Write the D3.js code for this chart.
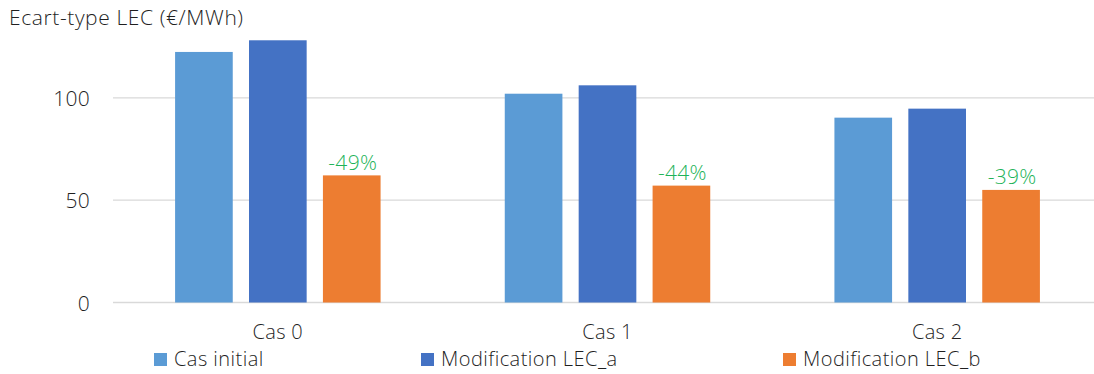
<!DOCTYPE html>
<html><head><meta charset="utf-8">
<script src="https://cdn.jsdelivr.net/npm/d3@7"></script>
<style>
html,body{margin:0;padding:0;background:#fff;}
svg text{font-family:"Open Sans",sans-serif;font-weight:300;fill:#1f1f1f;letter-spacing:0.3px;}
</style></head>
<body><svg id="c" width="1094" height="374"></svg>
<script>
const categories = ["Cas 0", "Cas 1", "Cas 2"];
const seriesNames = ["Cas initial", "Modification LEC_a", "Modification LEC_b"];
const casInitial = [122.4, 102.0, 90.3];
const lecA = [128.1, 106.1, 94.7];
const lecB = [62.1, 57.1, 55.0];
const changeLabels = ["-49%", "-44%", "-39%"];
const yTicks = [0, 50, 100];
const colors = ["#5B9BD5", "#4472C4", "#ED7D31"];

const series = [casInitial, lecA, lecB];
const svg = d3.select("#c");
const FS = 21;

const x0 = d3.scaleBand().domain(categories).range([113, 1102]).paddingInner(0).paddingOuter(0);
const x1 = d3.scaleBand().domain(d3.range(3)).range([0, x0.bandwidth()]).paddingInner(0.22).paddingOuter(0.84);
const y = d3.scaleLinear().domain([0, 100]).range([302.5, 97.8]);

// gridlines
svg.append("g").selectAll("line").data(yTicks).join("line")
  .attr("x1", 113).attr("x2", 1094)
  .attr("y1", d => y(d)).attr("y2", d => y(d))
  .attr("stroke", "#D9D9D9").attr("stroke-width", 1.3);

// y axis labels
const yAxis = d3.axisLeft(y).tickValues(yTicks).tickSize(0).tickPadding(0);
const ya = svg.append("g").attr("transform", "translate(90,0)").call(yAxis);
ya.select(".domain").remove();
ya.selectAll("text").attr("font-size", FS).attr("font-family", null).attr("dy", "0.36em");

// bars
const groups = svg.append("g").selectAll("g").data(categories).join("g")
  .attr("transform", d => `translate(${x0(d)},0)`);
groups.selectAll("rect").data((d, i) => series.map((s, k) => ({k, v: s[i]}))).join("rect")
  .attr("x", d => x1(d.k)).attr("width", x1.bandwidth())
  .attr("y", d => y(d.v)).attr("height", d => y(0) - y(d.v))
  .attr("fill", d => colors[d.k]);

// change labels
groups.append("text")
  .attr("x", x1(2) + x1.bandwidth() / 2 + 1)
  .attr("y", (d, i) => y(lecB[i]) - 5.5)
  .attr("text-anchor", "middle").attr("font-size", FS)
  .style("fill", "#1DB359")
  .text((d, i) => changeLabels[i]);

// x axis labels
const xAxis = d3.axisBottom(x0).tickSize(0).tickPadding(0);
const xa = svg.append("g").attr("transform", "translate(0,338.5)").call(xAxis);
xa.select(".domain").remove();
xa.selectAll("text").attr("font-size", 20).attr("font-family", null).attr("dy", 0).attr("y", 0);

// title
svg.append("text").attr("x", 9).attr("y", 25).attr("font-size", FS)
  .style("letter-spacing", "0.6px").text("Ecart-type LEC (€/MWh)");

// legend
const legX = [154, 421, 783];
const leg = svg.append("g").selectAll("g").data(seriesNames).join("g")
  .attr("transform", (d, i) => `translate(${legX[i]},353)`);
leg.append("rect").attr("width", 13).attr("height", 13).attr("fill", (d, i) => colors[i]);
leg.append("text").attr("x", 20).attr("y", 13).attr("font-size", 20)
  .style("letter-spacing", "0.45px").text(d => d);
</script></body></html>
